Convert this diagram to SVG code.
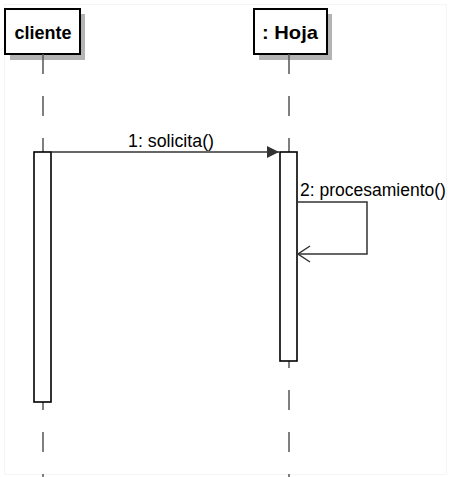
<svg xmlns="http://www.w3.org/2000/svg" width="451" height="477" viewBox="0 0 451 477">
<style>
.shadow{fill:#b4b4b4;stroke:none}
.head{fill:#fff;stroke:#000;stroke-width:2}
.htxt{font-family:"Liberation Sans",Arial,sans-serif;font-weight:bold;font-size:19px;fill:#000;text-anchor:middle}
.life{stroke:#555;stroke-width:1.5;stroke-dasharray:20 22;fill:none}
.act{fill:#fff;stroke:#000;stroke-width:1.6}
.msg{stroke:#333;stroke-width:1.5;fill:none}
.mtxt{font-family:"Liberation Sans",Arial,sans-serif;font-size:19px;fill:#000}
</style>
<defs>
<marker id="filled" markerWidth="12" markerHeight="12" refX="12" refY="6" orient="auto" markerUnits="userSpaceOnUse">
<path d="M0,0 L12,6 L0,12 Z" fill="#333"/>
</marker>
<marker id="open" markerWidth="14" markerHeight="18" refX="13" refY="9" orient="auto" markerUnits="userSpaceOnUse">
<path d="M1,1 L13,9 L1,17" fill="none" stroke="#333" stroke-width="1.5"/>
</marker>
</defs>
<rect width="451" height="477" fill="#fff"/>
<rect x="4.5" y="4.5" width="442" height="470" fill="none" stroke="#f5f5f5" stroke-width="1"/>
<g id="cliente">
<rect class="shadow" x="10" y="14" width="75" height="46"/>
<rect class="head" x="5" y="9" width="75" height="45"/>
<text class="htxt" x="43" y="39" textLength="57" lengthAdjust="spacingAndGlyphs">cliente</text>
<line class="life" x1="43" y1="54" x2="43" y2="477"/>
<rect class="act" x="34" y="152" width="17" height="250"/>
</g>
<g id="hoja">
<rect class="shadow" x="259" y="14" width="73" height="46"/>
<rect class="head" x="254" y="9" width="73" height="45"/>
<text class="htxt" x="290" y="39" textLength="56" lengthAdjust="spacingAndGlyphs">: Hoja</text>
<line class="life" x1="289" y1="54" x2="289" y2="477"/>
<rect class="act" x="280" y="152" width="17" height="209"/>
</g>
<g id="connectors">
<line class="msg" x1="51" y1="152" x2="279" y2="152" marker-end="url(#filled)"/>
<text class="mtxt" x="128" y="147" textLength="86" lengthAdjust="spacingAndGlyphs">1: solicita()</text>
<polyline class="msg" points="297,202 367,202 367,254 298,254" marker-end="url(#open)"/>
<text class="mtxt" x="300" y="196" style="font-size:17.5px">2: procesamiento()</text>
</g>
</svg>
